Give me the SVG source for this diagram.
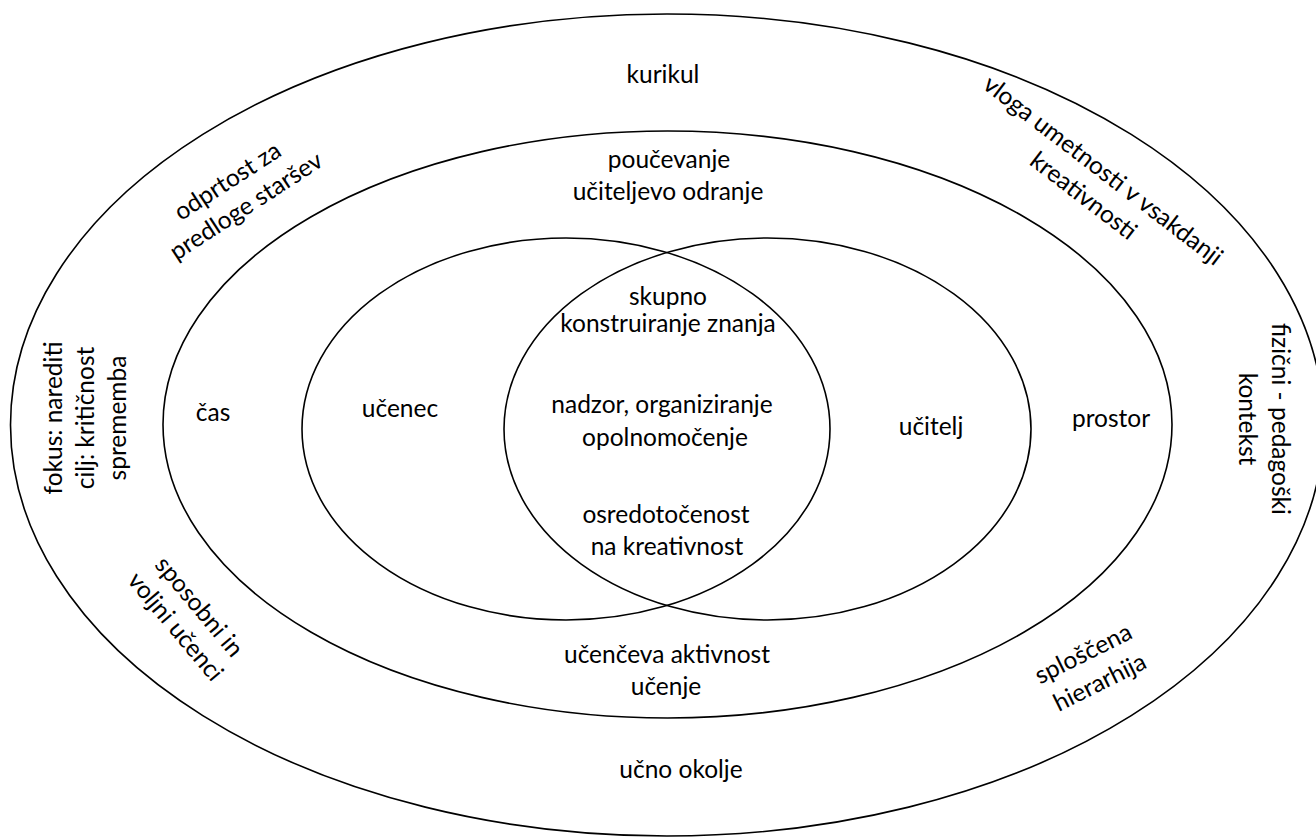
<svg xmlns="http://www.w3.org/2000/svg" width="1316" height="838" viewBox="0 0 1316 838">
<style>
.ring{fill:none;stroke:#000;stroke-width:1.6}
.t{font-family:Lato,"Open Sans","Liberation Sans",sans-serif;font-size:24.5px;fill:#000;text-anchor:middle}
</style>
<rect x="0" y="0" width="1316" height="838" fill="#fff"/>
<g id="ucno-okolje">
<ellipse class="ring" cx="667" cy="425" rx="656.5" ry="411"/>
<text class="t" x="663" y="83">kurikul</text>
<text class="t" x="681" y="778">učno okolje</text>
<text class="t" transform="translate(232,188) rotate(-33)"><tspan x="0" y="0">odprtost za</tspan><tspan x="2" y="31">predloge staršev</tspan></text>
<text class="t" transform="translate(1098,177) rotate(37.5)"><tspan x="0" y="0">vloga umetnosti v vsakdanji</tspan><tspan x="0" y="32">kreativnosti</tspan></text>
<text class="t" transform="translate(62,418) rotate(-90)"><tspan x="0" y="0">fokus: narediti</tspan><tspan x="0" y="32">cilj: kritičnost</tspan><tspan x="0" y="64">sprememba</tspan></text>
<text class="t" transform="translate(1272,419) rotate(90)"><tspan x="0" y="0">fizični - pedagoški</tspan><tspan x="0" y="33">kontekst</tspan></text>
<text class="t" transform="translate(193,612) rotate(50)"><tspan x="0" y="0">sposobni in</tspan><tspan x="0" y="31">voljni učenci</tspan></text>
<text class="t" transform="translate(1087,661) rotate(-26.5)"><tspan x="0" y="0">sploščena</tspan><tspan x="2" y="33">hierarhija</tspan></text>
</g>
<g id="poucevanje">
<ellipse class="ring" cx="667.5" cy="424.5" rx="504.5" ry="293.5"/>
<text class="t" x="669" y="168">poučevanje</text>
<text class="t" x="668" y="200">učiteljevo odranje</text>
<text class="t" x="213" y="421">čas</text>
<text class="t" x="1111" y="427">prostor</text>
<text class="t" x="667" y="663">učenčeva aktivnost</text>
<text class="t" x="666" y="695">učenje</text>
</g>
<g id="ucenec">
<ellipse class="ring" cx="566" cy="429" rx="264" ry="191"/>
<text class="t" x="400" y="417">učenec</text>
</g>
<g id="ucitelj">
<ellipse class="ring" cx="767.5" cy="429" rx="263.5" ry="191"/>
<text class="t" x="931" y="435">učitelj</text>
</g>
<g id="presek">
<text class="t" x="668" y="305">skupno</text>
<text class="t" x="668" y="332">konstruiranje znanja</text>
<text class="t" x="662" y="413">nadzor, organiziranje</text>
<text class="t" x="665" y="446">opolnomočenje</text>
<text class="t" x="666" y="523">osredotočenost</text>
<text class="t" x="667" y="555">na kreativnost</text>
</g>
<g id="connectors"></g>
</svg>
